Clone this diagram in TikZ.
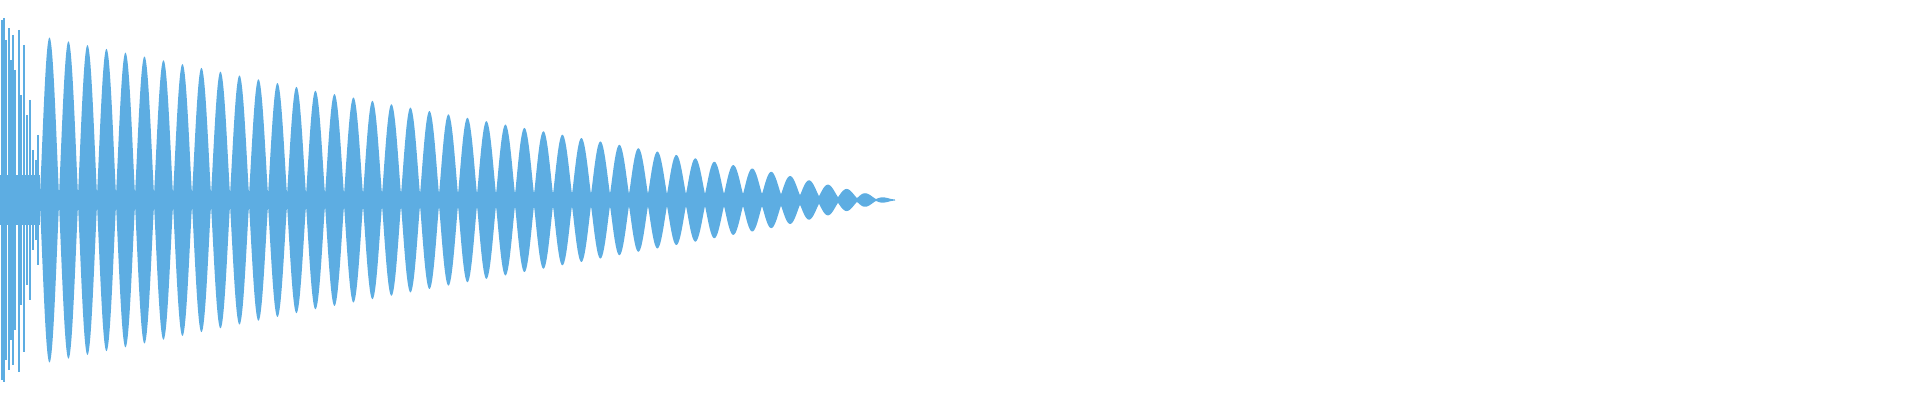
\documentclass[tikz,border=0pt]{standalone}
\definecolor{wave}{RGB}{93,173,226}
\begin{document}
\begin{tikzpicture}[x=0.5pt,y=-0.5pt,
  env/.style={fill=wave,draw=none},
  spike/.style={draw=wave,line width=1.2pt}]
\useasboundingbox (0,0) rectangle (1920,400);
\pgfmathdeclarefunction{envA}{1}{\pgfmathparse{(#1<300)*(155-0.2*(#1-57))+(#1>=300)*max(0,106-0.178*(#1-300))}}
\pgfmathdeclarefunction{phs}{1}{\pgfmathparse{(#1-40)/19-0.00000293*(#1-40)*(#1-40)}}
\pgfmathdeclarefunction{band}{1}{\pgfmathparse{max(0.6,6*min(1,(895-#1)/120))}}
\fill[env] plot[domain=40:895,samples=1800,smooth] (\x,{200-band(\x)-envA(\x)*pow(abs(sin(180*phs(\x))),1.1)})
  -- plot[domain=895:40,samples=1800,smooth] (\x,{200+band(\x)+envA(\x)*pow(abs(sin(180*phs(\x))),1.1)}) -- cycle;
\fill[env] (0,175) rectangle (40,225);
\foreach \xx/\t/\b in {2/20/380,4/18/382,6/40/360,9/28/370,11/60/340,13/35/365,15/70/330,19/30/372,21/95/305,24/45/352,27/115/285,30/100/300,33/150/250,36/160/240,38/135/265}
  \draw[spike] (\xx,\t) -- (\xx,\b);
\end{tikzpicture}
\end{document}
